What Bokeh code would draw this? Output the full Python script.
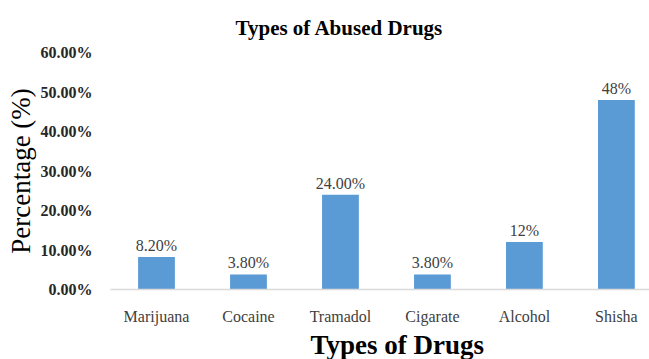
from bokeh.plotting import figure
from bokeh.models import ColumnDataSource, Range1d, FixedTicker, Title, LabelSet
from bokeh.core.properties import value
from bokeh.embed import file_html
from bokeh.resources import INLINE

categories = ["Marijuana", "Cocaine", "Tramadol", "Cigarate", "Alcohol", "Shisha"]
values = [0.082, 0.038, 0.24, 0.038, 0.12, 0.48]
bar_labels = ["8.20%", "3.80%", "24.00%", "3.80%", "12%", "48%"]
y_ticks = [0.0, 0.1, 0.2, 0.3, 0.4, 0.5, 0.6]
y_tick_labels = ["0.00%", "10.00%", "20.00%", "30.00%", "40.00%", "50.00%", "60.00%"]

FONT = "Liberation Serif"

src = ColumnDataSource(dict(x=list(range(len(categories))), top=values, label=bar_labels))

p = figure(width=649, height=359, output_backend="svg", toolbar_location=None,
           x_range=Range1d(-0.5, 5.36), y_range=Range1d(0, 0.6),
           min_border_left=110, min_border_right=0, min_border_top=52, min_border_bottom=70)
p.outline_line_color = None
p.background_fill_color = "white"
p.border_fill_color = "white"

p.vbar(x="x", top="top", bottom=0, width=0.4, source=src, fill_color="#5B9BD5", line_color=None)

labels = LabelSet(x="x", y="top", text="label", source=src, text_align="center",
                  text_baseline="bottom", y_offset=3, text_font=value(FONT),
                  text_font_size=value("16px"), text_color="#404040")
p.add_layout(labels)

p.xgrid.grid_line_color = None
p.ygrid.grid_line_color = None

p.xaxis.ticker = FixedTicker(ticks=list(range(len(categories))))
p.xaxis.major_label_overrides = {i: c for i, c in enumerate(categories)}
p.xaxis.major_tick_line_color = None
p.xaxis.minor_tick_line_color = None
p.xaxis.axis_line_color = "#d9d9d9"
p.xaxis.axis_line_width = 1.5
p.xaxis.major_label_text_font = FONT
p.xaxis.major_label_text_font_size = "16px"
p.xaxis.major_label_text_color = "#404040"
p.xaxis.major_label_standoff = 12

p.yaxis.ticker = FixedTicker(ticks=y_ticks)
p.yaxis.major_label_overrides = {t: l for t, l in zip(y_ticks, y_tick_labels)}
p.yaxis.major_tick_line_color = None
p.yaxis.minor_tick_line_color = None
p.yaxis.axis_line_color = None
p.yaxis.major_label_text_font = FONT
p.yaxis.major_label_text_font_size = "16px"
p.yaxis.major_label_text_font_style = "bold"
p.yaxis.major_label_text_color = "#262626"
p.yaxis.major_label_standoff = 12
p.yaxis.axis_label = "Percentage (%)"
p.yaxis.axis_label_text_font = FONT
p.yaxis.axis_label_text_font_size = "27px"
p.yaxis.axis_label_text_font_style = "normal"
p.yaxis.axis_label_text_color = "#000000"
p.yaxis.axis_label_standoff = 2

p.add_layout(Title(text="Types of Drugs", align="left", offset=200, text_font=FONT,
                   text_font_size="27px", text_font_style="bold", text_color="#000000",
                   standoff=0), "below")

p.title.text = "Types of Abused Drugs"
p.title.align = "left"
p.title.offset = 125
p.title.text_font = FONT
p.title.text_font_size = "21px"
p.title.text_font_style = "bold"
p.title.text_color = "#000000"
p.title.standoff = 25

open("out.html", "w").write(file_html(p, INLINE))
